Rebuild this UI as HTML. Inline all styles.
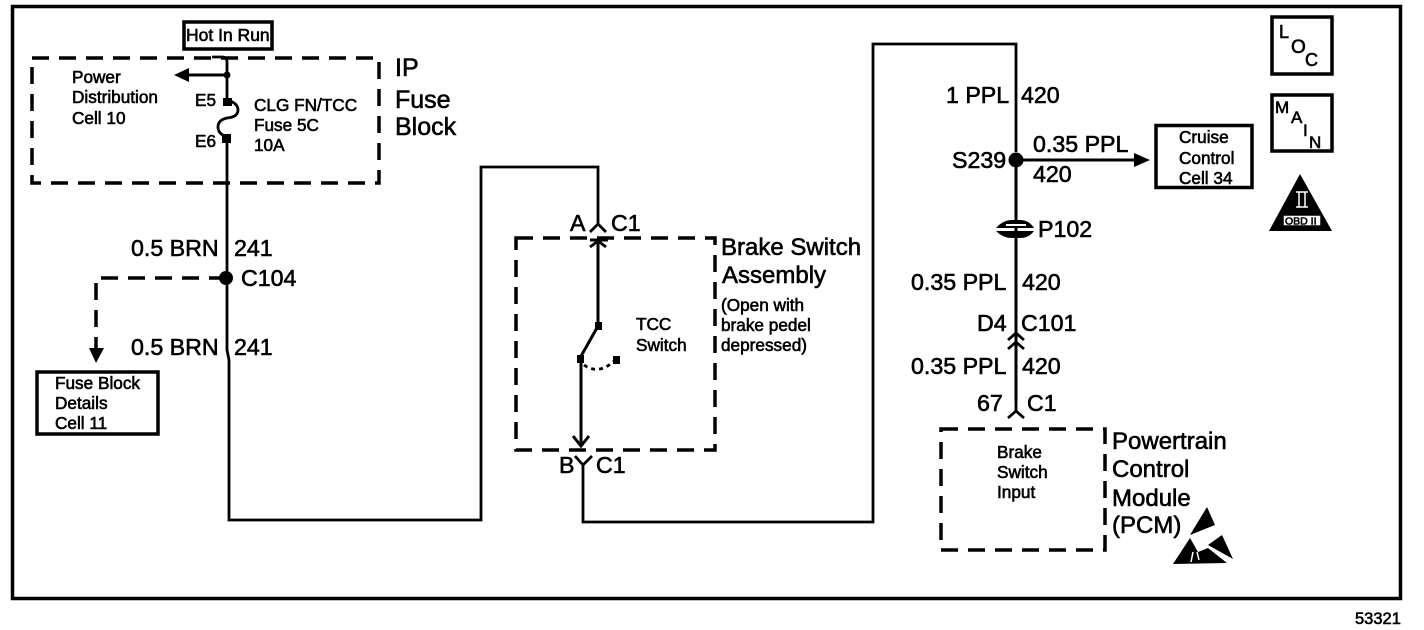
<!DOCTYPE html>
<html><head><meta charset="utf-8"><style>
html,body{margin:0;padding:0;background:#fff}
svg{display:block}
text{font-family:"Liberation Sans",sans-serif;fill:#000;stroke:#000;stroke-width:.6px}
.l{font-size:22px}.m{font-size:23.2px}.s{font-size:17.2px}.b{font-size:24px}
</style></head><body>
<svg width="1424" height="630" viewBox="0 0 1424 630" xmlns="http://www.w3.org/2000/svg">
<rect width="1424" height="630" fill="#fff"/>
<rect x="12.5" y="6.5" width="1388" height="592" fill="none" stroke="#000" stroke-width="3.5"/>
<g fill="none" stroke="#000" stroke-width="3.5">
<rect x="184" y="22" width="88" height="27"/>
<rect x="1272" y="17" width="60" height="57"/>
<rect x="1272" y="95" width="60" height="56"/>
<rect x="1156" y="125.500" width="96" height="62"/>
<rect x="37" y="372" width="121" height="62"/>
<g stroke-dasharray="17 10">
<rect x="32" y="58" width="347" height="125"/>
<rect x="516" y="238" width="199" height="212"/>
<rect x="941" y="429" width="164" height="121"/>
<path d="M226 278H96V350"/>
</g>
</g>
<g fill="none" stroke="#000" stroke-width="2.8">
<path d="M212 57H222Q227 57 227 62V100"/>
<path d="M227 75H186" stroke-width="3"/>
<path d="M227 100Q238 103 238 110Q238 117 227 118Q218 120 218 127Q218 134 227 137"/>
<path d="M227 137V350L229 360V520H481V167H598V226"/>
<path d="M590 232L598 224L606 232"/>
<path d="M590 240H608M598 240V322" stroke-width="3"/>
<path d="M598 326L580 358" stroke-width="3"/>
<path d="M581 358V446" stroke-width="3"/>
<path d="M573 436L581 446L589 436" stroke-width="3"/>
<path d="M575 456L583 465L592 456M583 465V522H873V44H1016V152" />
<path d="M1016 160V402" stroke-width="3"/>
<path d="M1016 160H1136" stroke-width="3"/>
<path d="M1008 340L1016 333L1024 340M1008 349L1016 342L1024 349"/>
<path d="M1008 418L1016 411L1024 418M1016 345V412"/>
<path d="M584 365Q600 376 616 359" stroke-dasharray="4 4"/>
<path d="M590 247L598 241L606 247"/>
</g>
<g fill="#000" stroke="none">
<path d="M174 75L189 68V82Z"/>
<circle cx="227" cy="75" r="3.500"/>
<rect x="223" y="98" width="9" height="8"/>
<rect x="222" y="134" width="9" height="9"/>
<circle cx="226" cy="278" r="7"/>
<path d="M89 348H104L96 363Z"/>
<rect x="595" y="322" width="7" height="8"/>
<rect x="577" y="355" width="7" height="8"/>
<rect x="613" y="356" width="7" height="8"/>
<circle cx="1016" cy="160" r="7.500"/>
<path d="M1134 153L1150 160L1134 167Z"/>
<path d="M996 228Q1003 220 1012 220H1020Q1029 220 1034 228Z"/>
<path d="M996 231H1034Q1029 238 1020 238H1012Q1003 238 996 231Z"/>
<path d="M1269 231L1300 174L1332 231Z"/>
<path d="M1207 507L1215 525L1190 535Z"/>
<path d="M1190 538L1173 564L1227 563L1208 548L1198 552Z"/>
<path d="M1222 535L1233 559L1208 545Z"/>
</g>
<path d="M1006 225H1026" stroke="#fff" stroke-width="2"/>
<path d="M1193 552L1191 562M1197 552L1199 560" stroke="#fff" stroke-width="1.500"/>
<rect x="1283" y="215" width="38" height="11" fill="#fff"/>
<rect x="1283" y="215" width="38" height="11" fill="none" stroke="#000" stroke-width="1.500"/>
<path d="M1296 207H1308M1299 192V207M1305 192V207M1296 192H1308" stroke="#fff" stroke-width="1.500" fill="none"/>
<text x="186" y="41" font-size="17.500">Hot In Run</text>
<text class="s" x="72" y="83">Power</text>
<text class="s" x="72" y="103">Distribution</text>
<text class="s" x="72" y="124">Cell 10</text>
<text class="s" x="195" y="106">E5</text>
<text class="s" x="195" y="147">E6</text>
<text class="s" x="254" y="111">CLG FN/TCC</text>
<text class="s" x="254" y="131">Fuse 5C</text>
<text class="s" x="254" y="151">10A</text>
<text x="395" y="76" font-size="25">IP</text>
<text x="395" y="108" font-size="25">Fuse</text>
<text x="395" y="135" font-size="25">Block</text>
<text class="m" x="131" y="256">0.5 BRN</text>
<text class="m" x="234" y="256">241</text>
<text class="m" x="241" y="286">C104</text>
<text class="m" x="131" y="355">0.5 BRN</text>
<text class="m" x="234" y="355">241</text>
<text class="s" x="55" y="389">Fuse Block</text>
<text class="s" x="55" y="409">Details</text>
<text class="s" x="55" y="429">Cell 11</text>
<text class="m" x="570" y="231">A</text>
<text class="m" x="611" y="231">C1</text>
<text class="b" x="721" y="255">Brake Switch</text>
<text class="b" x="722" y="283">Assembly</text>
<text class="s" x="721" y="311">(Open with</text>
<text class="s" x="721" y="331">brake pedel</text>
<text class="s" x="721" y="351">depressed)</text>
<text class="s" x="636" y="330">TCC</text>
<text class="s" x="636" y="351">Switch</text>
<text class="m" x="559" y="473">B</text>
<text class="m" x="596" y="473">C1</text>
<text class="m" x="946" y="103">1 PPL</text>
<text class="m" x="1021" y="103">420</text>
<text class="m" x="952" y="168">S239</text>
<text class="m" x="1033" y="152">0.35 PPL</text>
<text class="m" x="1033" y="182">420</text>
<text class="m" x="1038" y="237">P102</text>
<text class="m" x="911" y="290">0.35 PPL</text>
<text class="m" x="1022" y="290">420</text>
<text class="m" x="977" y="331">D4</text>
<text class="m" x="1021" y="331">C101</text>
<text class="m" x="911" y="374">0.35 PPL</text>
<text class="m" x="1022" y="374">420</text>
<text class="m" x="977" y="411">67</text>
<text class="m" x="1027" y="411">C1</text>
<text class="s" x="1179" y="143">Cruise</text>
<text class="s" x="1179" y="164">Control</text>
<text class="s" x="1179" y="184">Cell 34</text>
<text x="1279" y="38" style="font-size:18px">L</text>
<text x="1291" y="53" style="font-size:19px">O</text>
<text x="1305" y="66" style="font-size:18px">C</text>
<text x="1275" y="113" style="font-size:17px">M</text>
<text x="1291" y="123" style="font-size:17px">A</text>
<text x="1303" y="136" style="font-size:17px">I</text>
<text x="1309" y="148" style="font-size:17px">N</text>
<text x="1285" y="224.500" style="font-size:10.500px">OBD II</text>
<text class="s" x="997" y="458">Brake</text>
<text class="s" x="997" y="478">Switch</text>
<text class="s" x="997" y="498">Input</text>
<text class="b" x="1112" y="449">Powertrain</text>
<text class="b" x="1112" y="477">Control</text>
<text class="b" x="1112" y="506">Module</text>
<text class="b" x="1112" y="533">(PCM)</text>
<text x="1355" y="624" font-size="16.500">53321</text>
</svg>
</body></html>
